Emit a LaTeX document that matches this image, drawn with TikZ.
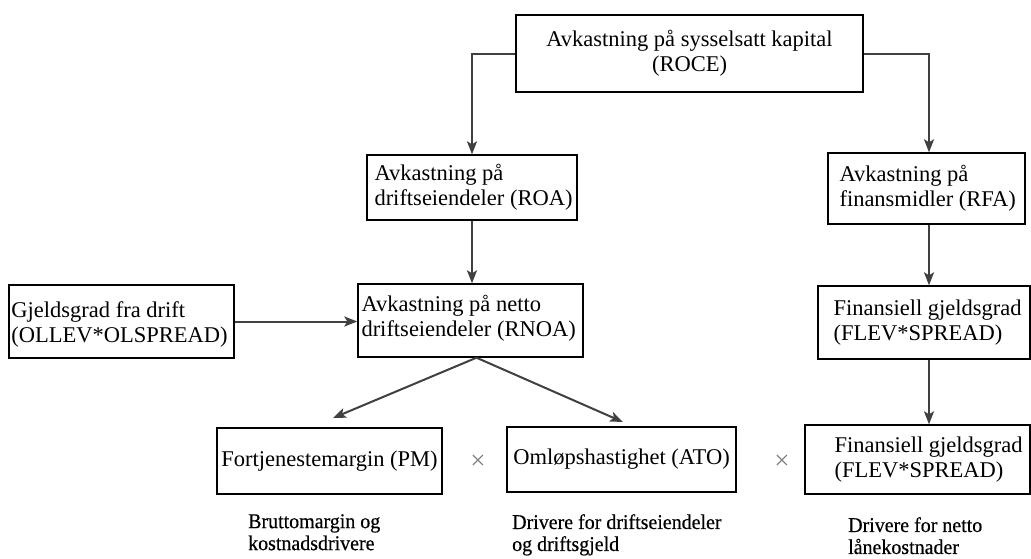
\documentclass[tikz,border=0pt]{standalone}
\usepackage{fontspec}
\setmainfont{Liberation Serif}
\newfontfamily\capfont{Liberation Serif}[FakeBold=0.4,FakeStretch=0.95]
\usetikzlibrary{arrows.meta,calc}
\begin{document}
\begin{tikzpicture}[x=1pt,y=-1pt,
  box/.style={draw=black,line width=1.4pt,inner sep=0pt,align=center,font=\fontsize{22.5}{25}\selectfont},
  txt/.style={inner sep=0pt,align=left,font=\fontsize{22.5}{25}\selectfont},
  captxt/.style={inner sep=0pt,align=left,font=\capfont\fontsize{21}{22}\selectfont},
  arr/.style={draw=black!75,line width=2pt,-{Stealth[length=13pt,width=10pt,inset=3pt]}},
  timesmark/.style={text=black!50,font=\fontsize{27}{27}\selectfont,inner sep=0pt}]
\useasboundingbox (0,0) rectangle (1031,558);
\fill[white] (0,0) rectangle (1031,558);

% boxes
\node[box,minimum width=347pt,minimum height=77pt] (roce) at (689.5,53.5) {Avkastning på sysselsatt kapital\\(ROCE)};
\node[box,minimum width=210pt,minimum height=65pt] (roa) at (472,187.5) {};
\node[box,minimum width=197pt,minimum height=71pt] (rfa) at (926.5,188.5) {};
\node[box,minimum width=225pt,minimum height=73pt] (gj) at (121.5,321.5) {};
\node[box,minimum width=225pt,minimum height=73pt] (rnoa) at (470.5,320.5) {};
\node[box,minimum width=212pt,minimum height=73pt] (flev) at (924,322.5) {};
\node[box,minimum width=225pt,minimum height=66pt] (pm) at (329.5,461) {Fortjenestemargin (PM)};
\node[box,minimum width=229pt,minimum height=65pt] (ato) at (621.5,459.5) {Omløpshastighet (ATO)};
\node[box,minimum width=225pt,minimum height=69pt] (flev2) at (917.5,459.5) {};

% box texts
\node[txt,anchor=west] (roat) at ([xshift=8pt]roa.west) {Avkastning på\\driftseiendeler (ROA)};
\node[txt,anchor=west] (rfat) at ([xshift=12pt]rfa.west) {Avkastning på\\finansmidler (RFA)};
\node[txt,anchor=west] (gjt) at ([xshift=3pt,yshift=-3pt]gj.west) {Gjeldsgrad fra drift\\(OLLEV*OLSPREAD)};
\node[txt,anchor=west] (rnoat) at ([xshift=4pt,yshift=2pt]rnoa.west) {Avkastning på netto\\driftseiendeler (RNOA)};
\node[txt,anchor=west] (flevt) at ([xshift=16pt]flev.west) {Finansiell gjeldsgrad\\(FLEV*SPREAD)};
\node[txt,anchor=west] (flev2t) at ([xshift=30pt]flev2.west) {Finansiell gjeldsgrad\\(FLEV*SPREAD)};

% multiplication signs
\node[timesmark] (x1) at (478,462) {×};
\node[timesmark] (x2) at (782,462) {×};

% captions
\node[captxt,anchor=north west] (c1) at (248,514) {Bruttomargin og\\kostnadsdrivere};
\node[captxt,anchor=north west] (c2) at (512,514) {Drivere for driftseiendeler\\og driftsgjeld};
\node[captxt,anchor=north west] (c3) at (848,517) {Drivere for netto\\lånekostnader};

% connectors
\coordinate (xr) at (929,0);
\coordinate (pmtip) at (333,418);
\coordinate (atotip) at (623,422);
\draw[arr] (roce.west) -| (roa.north);
\draw[arr] (roce.east) -| (rfa.north -| xr);
\draw[arr] (roa.south) -- (roa.south |- rnoa.north);
\draw[arr] (rfa.south -| xr) -- (flev.north -| xr);
\draw[arr] (flev.south -| xr) -- (flev2.north -| xr);
\draw[arr] (gj.east) -- (gj.east -| rnoa.west);
\draw[arr] ([xshift=6pt]rnoa.south) -- (pmtip);
\draw[arr] ([xshift=6pt]rnoa.south) -- (atotip);
\end{tikzpicture}
\end{document}
